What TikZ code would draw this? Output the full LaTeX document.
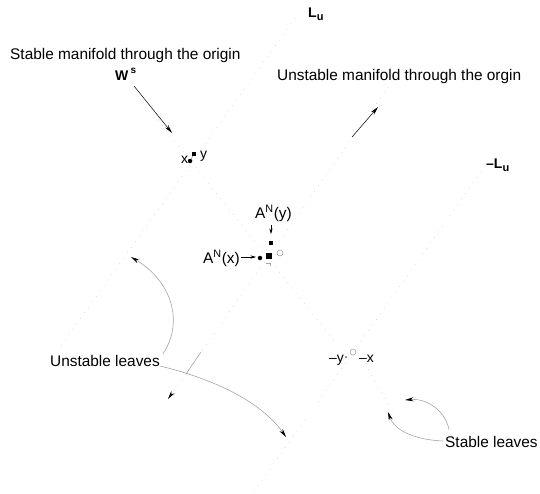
\documentclass[tikz,border=0pt]{standalone}
\usepackage{fontspec}
\setmainfont{Liberation Sans}
\usetikzlibrary{arrows.meta}
\begin{document}
\begin{tikzpicture}[x=1pt,y=-1pt,
  lbl/.style={font=\fontsize{15.4}{18}\selectfont, inner sep=0pt, anchor=base west},
  blbl/.style={font=\fontsize{14}{16}\selectfont\bfseries, inner sep=0pt, anchor=base west},
  faint/.style={gray!35, line width=0.6pt, dash pattern=on 0.7pt off 6pt},
  ptr/.style={gray!75, line width=0.55pt},
  arr/.style={-{Stealth[length=8.5pt,width=4pt,black]}},
  sarr/.style={-{Stealth[length=5.5pt,width=3.2pt,black]}},
  dotn/.style={circle, fill, inner sep=0pt, minimum size=4.5pt},
  sqn/.style={fill, inner sep=0pt, minimum size=4.2pt},
  bsqn/.style={fill, inner sep=0pt, minimum size=6pt},
  odotn/.style={circle, draw, inner sep=0pt, minimum size=6pt, line width=0.5pt, gray!80}]
\useasboundingbox (0,0) rectangle (540,493);

% ---- faint lines (manifolds and leaves)
\coordinate (lu1) at (295,18);   \coordinate (lu2) at (58,350);
\coordinate (mlu1) at (485,166); \coordinate (mlu2) at (318,402);
\coordinate (um1) at (396,76);   \coordinate (um2) at (201,352);
\coordinate (um3) at (186,374);  \coordinate (um4) at (168,399);
\coordinate (sm1) at (158,120);  \coordinate (sm2) at (335,342);
\coordinate (leaf1) at (305,420); \coordinate (leaf2) at (253,493);
\coordinate (sleaf1) at (358,352); \coordinate (sleaf2) at (395,415);
\draw[faint] (lu1) -- (lu2);
\draw[faint] (mlu1) -- (mlu2);
\draw[faint] (um1) -- (um2);
\draw[ptr] (um2) -- (um3);
\draw[faint, arr] (um3) -- (um4);
\draw[faint] (sm1) -- (sm2);
\draw[faint] (leaf1) -- (leaf2);
\draw[faint] (sleaf1) -- (sleaf2);
\coordinate (sa1) at (364,369); \coordinate (sa2) at (374,386);
\draw[draw=none, arr] (sa1) -- (sa2);

% ---- labels
\node[lbl] (smt) at (10,59) {Stable manifold through the origin};
\node[lbl] (umt) at (277,80) {Unstable manifold through the orgin};
\node[lbl] (ul) at (50,366) {Unstable leaves};
\node[lbl] (sl) at (445,447) {Stable leaves};
\node[blbl] (ws) at (115,80) {W\,\raisebox{7pt}{\fontsize{10}{12}\selectfont s}};
\node[blbl] (lu) at (308,17) {L\raisebox{-3pt}{\fontsize{11}{12}\selectfont u}};
\node[blbl] (mlu) at (486,168) {–L\raisebox{-3pt}{\fontsize{11}{12}\selectfont u}};
\node[lbl, font=\fontsize{14}{16}\selectfont] (xl) at (181,163) {x};
\node[lbl, font=\fontsize{14}{16}\selectfont] (yl) at (200,158) {y};
\node[lbl] (anx) at (203,263) {A\textsuperscript{N}(x)};
\node[lbl] (any) at (255,218) {A\textsuperscript{N}(y)};
\node[blbl, font=\fontsize{14}{16}\selectfont] (myl) at (329,362) {–y};
\node[blbl, font=\fontsize{14}{16}\selectfont] (mxl) at (359,362) {–x};

% ---- points
\node[dotn] (px) at (190,161) {};
\node[sqn] (py) at (194,154) {};
\draw[ptr] (px) -- (py);
\node[dotn] (pax) at (260,258) {};
\node[sqn] (pay) at (271,243) {};
\node[bsqn] (p0) at (269,256) {};
\node[odotn] (pc) at (280,253) {};
\node[odotn] (pmx) at (353,352) {};
\node[circle, fill=gray, inner sep=0pt, minimum size=2.5pt] (pmy) at (346,357) {};
\draw[gray!70, line width=0.5pt] (266,263) -- (270,263) -- (270,266);

% ---- pointer arrows
\coordinate (wsA) at (134,86); \coordinate (wsB) at (172,133);
\draw[arr, line width=0.5pt] (wsA) -- (wsB);
\coordinate (umA) at (352,137); \coordinate (umB) at (378,107);
\draw[arr, line width=0.5pt] (umA) -- (umB);
\coordinate (axA) at (241,257); \coordinate (axB) at (256,257);
\draw[sarr, line width=0.5pt] (axA) -- (axB);
\coordinate (ayA) at (271,225); \coordinate (ayB) at (271,234);
\draw[sarr, line width=0.5pt] (ayA) -- (ayB);

% ---- leaf pointers
\coordinate (ulA) at (163,354); \coordinate (ulB) at (131,257);
\draw[ptr, arr] (ulA) .. controls (185,320) and (170,280) .. (ulB);
\coordinate (ulC) at (160,366); \coordinate (ulD) at (286,437);
\draw[ptr, arr] (ulC) .. controls (210,378) and (260,400) .. (ulD);
\coordinate (slA) at (449,430); \coordinate (slB) at (405,400);
\draw[ptr, arr] (slA) .. controls (446,412) and (428,398) .. (slB);
\coordinate (slC) at (443,441); \coordinate (slD) at (388,412);
\draw[ptr, arr] (slC) .. controls (418,440) and (395,432) .. (slD);
\end{tikzpicture}
\end{document}
